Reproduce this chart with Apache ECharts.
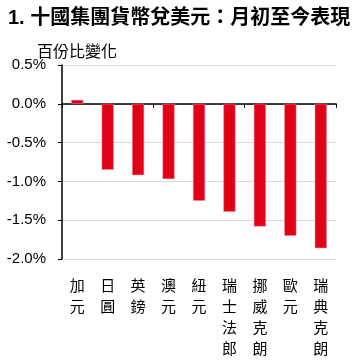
<!DOCTYPE html>
<html><head><meta charset="utf-8">
<script src="https://cdn.jsdelivr.net/npm/echarts@6/dist/echarts.min.js"></script>
<style>html,body{margin:0;padding:0;background:#fff}#c{width:364px;height:361px}</style>
</head><body><div id="c"></div>
<script>
const categories = ['加元','日圓','英鎊','澳元','紐元','瑞士法郎','挪威克朗','歐元','瑞典克朗'];
const values = [0.05,-0.85,-0.92,-0.97,-1.25,-1.39,-1.58,-1.70,-1.86];
const titleText = '1. 十國集團貨幣兌美元：月初至今表現';
const unitText = '百份比變化';
const chart = echarts.init(document.getElementById('c'));
const font = '"Liberation Sans", Arial, "Noto Sans CJK TC", sans-serif';
chart.setOption({
  animation:false,
  title:[
    {text:titleText,left:3,top:3,textStyle:{fontSize:20,fontWeight:'bold',color:'#000',fontFamily:font}},
    {text:unitText,left:32,top:40,textStyle:{fontSize:16,fontWeight:'normal',color:'#000',fontFamily:font}}
  ],
  grid:{left:62,right:28,top:65,bottom:102},
  xAxis:[
    {type:'category',data:categories,axisLine:{onZero:true,lineStyle:{color:'#000',width:1.5}},
     axisTick:{show:true,length:4,lineStyle:{color:'#000'}},axisLabel:{show:false},splitLine:{show:false}},
    {type:'category',data:categories,position:'bottom',axisLine:{show:false,onZero:false},axisTick:{show:false},
     axisLabel:{show:true,margin:17,fontSize:15,lineHeight:21,color:'#000',fontFamily:font,
       formatter:v=>v.split('').join('\n')}}
  ],
  yAxis:{type:'value',min:-2,max:0.5,interval:0.5,
    axisLine:{show:true,lineStyle:{color:'#000',width:1.5}},
    axisTick:{show:true,length:4,lineStyle:{color:'#000'}},
    axisLabel:{fontSize:15,color:'#000',margin:16,fontFamily:font,formatter:v=>v.toFixed(1)+'%'},
    splitLine:{show:true,lineStyle:{color:'#d9d9d9',width:1}}},
  series:[{type:'bar',data:values,xAxisIndex:0,barWidth:12,
    itemStyle:{color:'#E00018',borderColor:'#f08a94',borderWidth:0.5}}]
});
</script></body></html>
